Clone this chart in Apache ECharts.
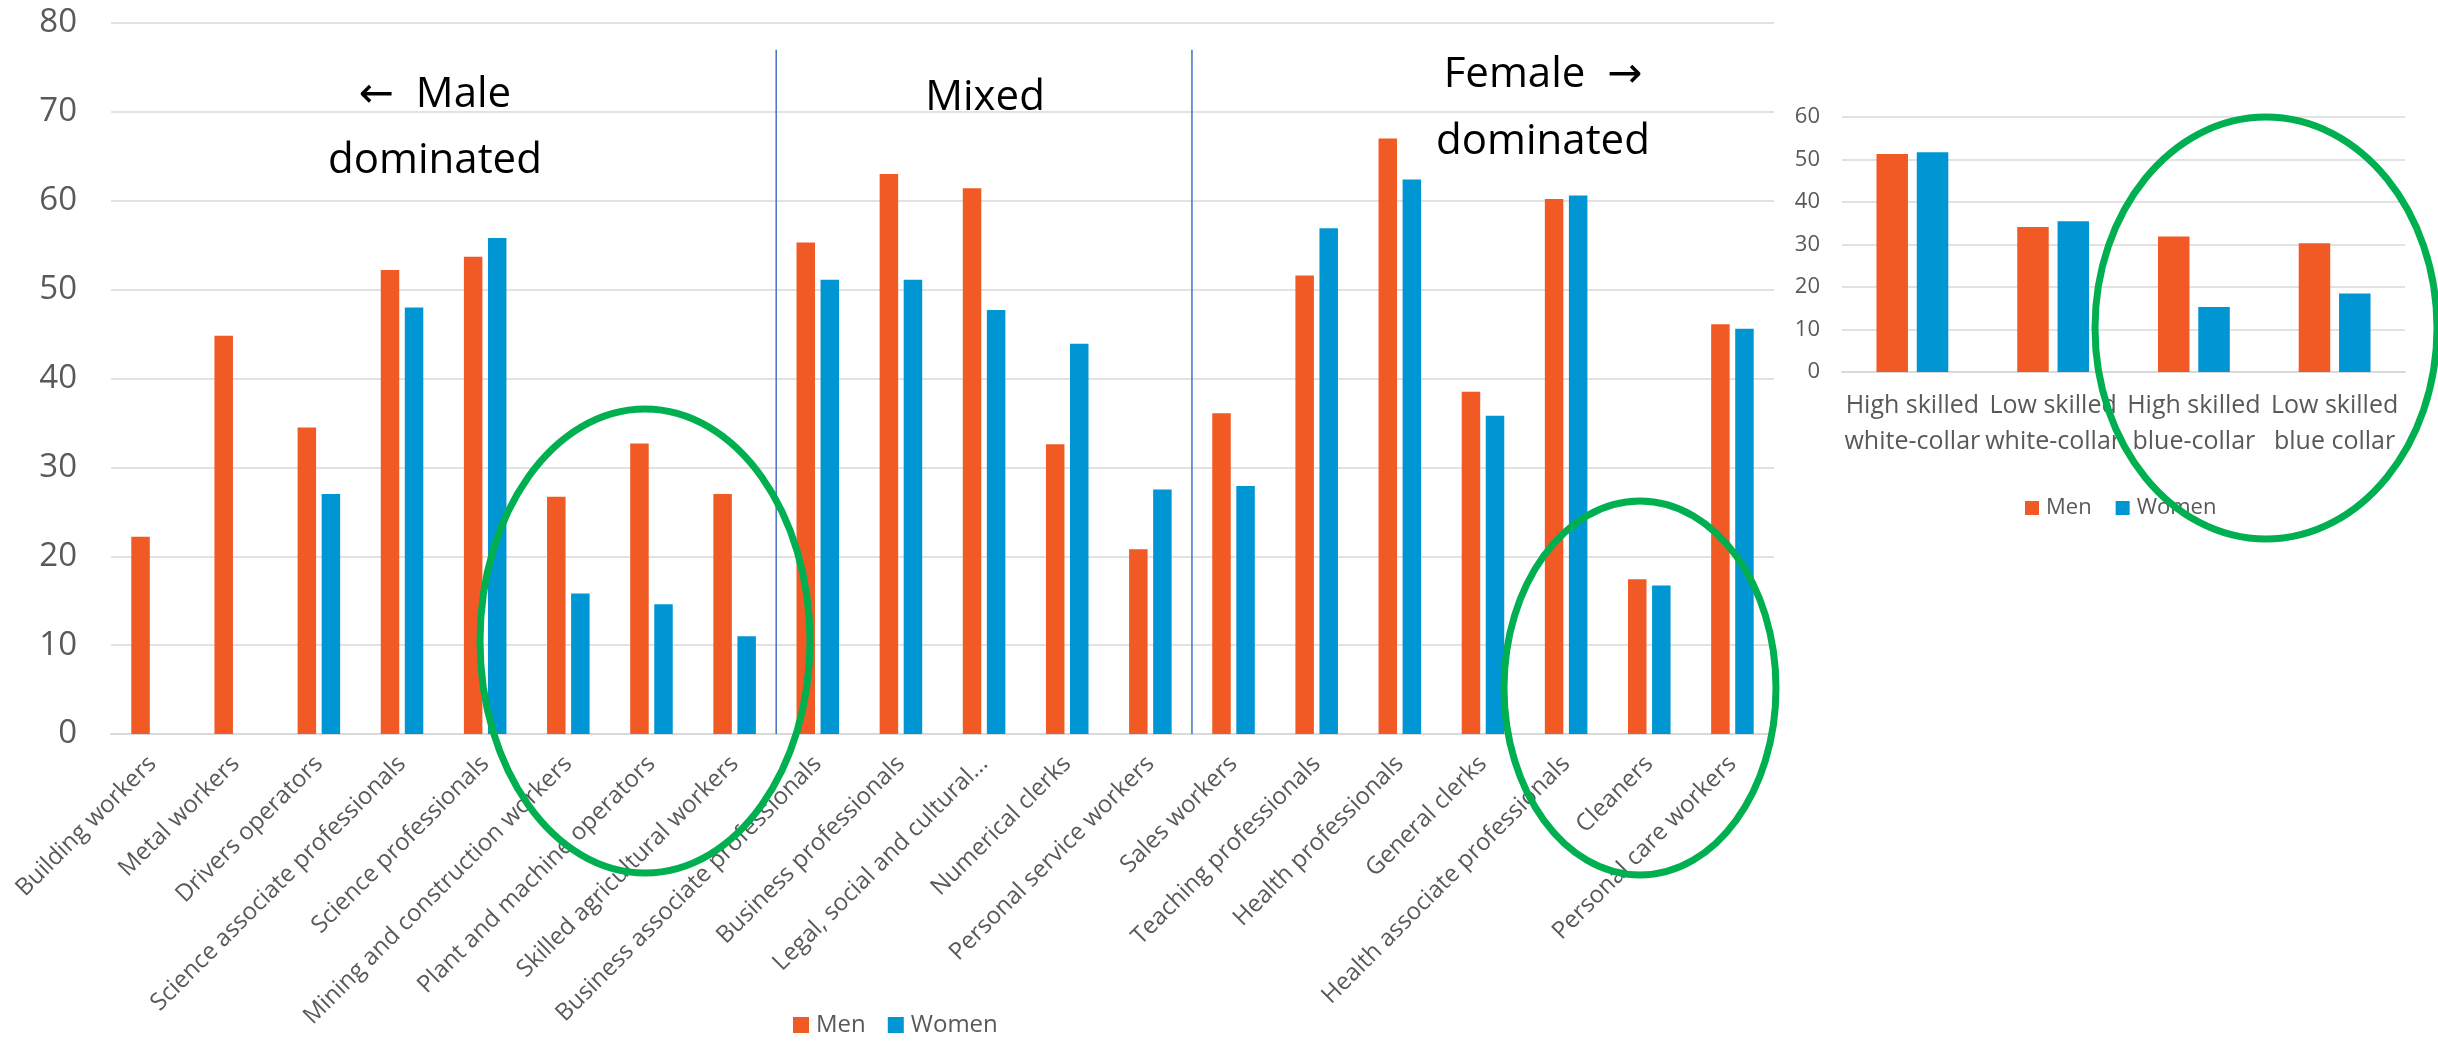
<!DOCTYPE html>
<html>
<head>
<meta charset="utf-8">
<title>Occupations by gender</title>
<script src="https://cdn.jsdelivr.net/npm/echarts@6/dist/echarts.min.js"></script>
<style>
  html, body { margin: 0; padding: 0; background: #ffffff; }
  #chart { width: 2438px; height: 1041px; }
</style>
</head>
<body>
<div id="chart"></div>
<script>
// Occupations, ordered from male dominated to female dominated
const occupations = [
  'Building workers', 'Metal workers', 'Drivers operators',
  'Science associate professionals', 'Science professionals',
  'Mining and construction workers', 'Plant and machine operators',
  'Skilled agricultural workers', 'Business associate professionals',
  'Business professionals', 'Legal, social and cultural...',
  'Numerical clerks', 'Personal service workers', 'Sales workers',
  'Teaching professionals', 'Health professionals', 'General clerks',
  'Health associate professionals', 'Cleaners', 'Personal care workers'
];
const menByOccupation = [22.2, 44.8, 34.5, 52.2, 53.7, 26.7, 32.7, 27.0, 55.3, 63.0,
                         61.4, 32.6, 20.8, 36.1, 51.6, 67.0, 38.5, 60.2, 17.4, 46.1];
const womenByOccupation = [null, null, 27.0, 48.0, 55.8, 15.8, 14.6, 11.0, 51.1, 51.1,
                           47.7, 43.9, 27.5, 27.9, 56.9, 62.4, 35.8, 60.6, 16.7, 45.6];
const mainTicks = { min: 0, max: 80, step: 10 };

// Skill groups
const skillGroups = ['High skilled\nwhite-collar', 'Low skilled\nwhite-collar',
                     'High skilled\nblue-collar', 'Low skilled\nblue collar'];
const menBySkill = [51.3, 34.1, 31.9, 30.3];
const womenBySkill = [51.7, 35.5, 15.3, 18.5];
const skillTicks = { min: 0, max: 60, step: 10 };

// Section dividers, in category units along the occupation axis
const dividerPositions = [8, 13];
const dividerTop = 77;

const MEN = '#F15A24';
const WOMEN = '#0096D4';
const GRID = '#D9D9D9';
const LABEL = '#595959';
const FONT = '"Open Sans", "DejaVu Sans", sans-serif';

const chart = echarts.init(document.getElementById('chart'), null, { renderer: 'canvas' });

const dividerSeries = dividerPositions.map((pos, i) => ({
  type: 'line',
  name: 'divider' + i,
  xAxisIndex: 1,
  yAxisIndex: 0,
  data: [[pos, 0], [pos, dividerTop]],
  symbol: 'none',
  silent: true,
  lineStyle: { color: '#4472C4', width: 1.5 },
  z: 5
}));

function headerText(x, y, text) {
  return {
    type: 'text', x: x, y: y, z: 20, silent: true,
    style: {
      text: text, fill: '#000000', font: '42px ' + FONT,
      align: 'center', verticalAlign: 'middle',
      textAlign: 'center', textVerticalAlign: 'middle'
    }
  };
}

function ring(cx, cy, rx, ry) {
  return {
    type: 'ellipse', z: 30, silent: true,
    shape: { cx: cx, cy: cy, rx: rx, ry: ry },
    style: { fill: null, stroke: '#00B050', lineWidth: 7 }
  };
}

const option = {
  backgroundColor: '#ffffff',
  animation: false,
  textStyle: { fontFamily: FONT },
  grid: [
    { left: 111, right: 664, top: 23, bottom: 307, containLabel: false },
    { left: 1842, right: 33, top: 117, bottom: 669, containLabel: false }
  ],
  legend: [
    {
      data: ['Men', 'Women'],
      left: 788, top: 1008,
      icon: 'rect', itemWidth: 16, itemHeight: 16, itemGap: 22,
      textStyle: { color: LABEL, fontSize: 24, fontFamily: FONT, padding: [0, 0, 0, 2] },
      selectedMode: false
    },
    {
      data: ['Men', 'Women'],
      left: 2020, top: 492,
      icon: 'rect', itemWidth: 14, itemHeight: 14, itemGap: 24,
      textStyle: { color: LABEL, fontSize: 22, fontFamily: FONT, padding: [0, 0, 0, 2] },
      selectedMode: false
    }
  ],
  xAxis: [
    {
      type: 'category', gridIndex: 0, data: occupations,
      axisLine: { lineStyle: { color: GRID, width: 2 } },
      axisTick: { show: false },
      axisLabel: {
        interval: 0, rotate: 45, margin: 26,
        color: LABEL, fontSize: 24, fontFamily: FONT
      }
    },
    {
      type: 'value', gridIndex: 0, min: 0, max: occupations.length, show: false
    },
    {
      type: 'category', gridIndex: 1, data: skillGroups,
      axisLine: { lineStyle: { color: GRID, width: 2 } },
      axisTick: { show: false },
      axisLabel: {
        interval: 0, margin: 16, lineHeight: 36,
        color: LABEL, fontSize: 25, fontFamily: FONT
      }
    }
  ],
  yAxis: [
    {
      type: 'value', gridIndex: 0,
      min: mainTicks.min, max: mainTicks.max, interval: mainTicks.step,
      axisLine: { show: false }, axisTick: { show: false },
      axisLabel: { margin: 34, color: LABEL, fontSize: 33, fontFamily: FONT },
      splitLine: { lineStyle: { color: GRID, width: 1.5 } }
    },
    {
      type: 'value', gridIndex: 1,
      min: skillTicks.min, max: skillTicks.max, interval: skillTicks.step,
      axisLine: { show: false }, axisTick: { show: false },
      axisLabel: { margin: 22, color: LABEL, fontSize: 22, fontFamily: FONT },
      splitLine: { lineStyle: { color: GRID, width: 1.5 } }
    }
  ],
  series: [
    {
      name: 'Men', type: 'bar', xAxisIndex: 0, yAxisIndex: 0,
      data: menByOccupation, barWidth: 18.5, barGap: '30%',
      itemStyle: { color: MEN }, z: 3
    },
    {
      name: 'Women', type: 'bar', xAxisIndex: 0, yAxisIndex: 0,
      data: womenByOccupation, barWidth: 18.5, barGap: '30%',
      itemStyle: { color: WOMEN }, z: 3
    },
    {
      name: 'Men', type: 'bar', xAxisIndex: 2, yAxisIndex: 1,
      data: menBySkill, barWidth: 31.5, barGap: '28%',
      itemStyle: { color: MEN }
    },
    {
      name: 'Women', type: 'bar', xAxisIndex: 2, yAxisIndex: 1,
      data: womenBySkill, barWidth: 31.5, barGap: '28%',
      itemStyle: { color: WOMEN }
    }
  ].concat(dividerSeries),
  graphic: [
    headerText(435, 95, '\u2190  Male'),
    headerText(435, 161, 'dominated'),
    headerText(985, 98, 'Mixed'),
    headerText(1543, 75, 'Female  \u2192'),
    headerText(1543, 142, 'dominated'),
    ring(645, 641, 165, 232),
    ring(1640, 688, 136, 187),
    ring(2266, 328, 171, 211)
  ]
};

chart.setOption(option);
</script>
</body>
</html>
